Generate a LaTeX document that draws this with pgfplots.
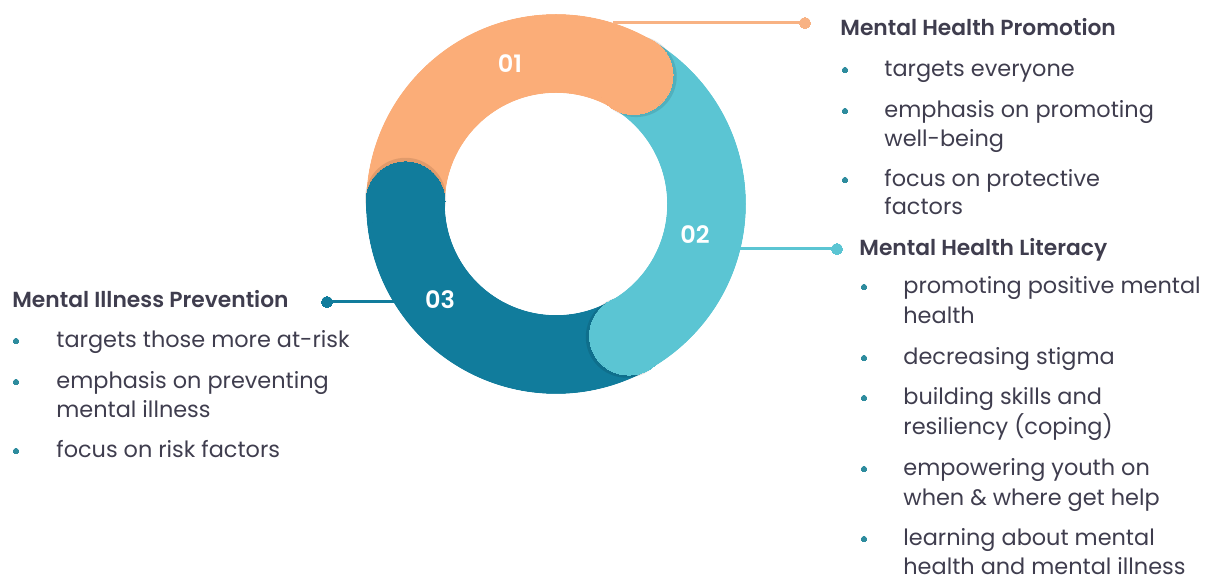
\documentclass[border=0pt]{standalone}
\usepackage{pgfplots}
\pgfplotsset{compat=1.18}
\usepackage{fontspec}
\setmainfont{Poppins}[BoldFont={Poppins SemiBold}]
\definecolor{orangeC}{HTML}{FBAD78}
\definecolor{lteal}{HTML}{5BC5D3}
\definecolor{dteal}{HTML}{117C9C}
\definecolor{lineO}{HTML}{F8B283}
\definecolor{textC}{HTML}{3F3D4E}
\definecolor{bulC}{HTML}{2E8C9E}
\newcommand{\body}{\fontsize{11.2}{11.2}\selectfont}
\newcommand{\head}{\fontsize{10.9}{10.9}\selectfont\bfseries}
\pgfplotsset{dot/.style={only marks, mark=*, color=#1, mark options={solid, fill=#1, draw=#1, line width=0pt}}}
\begin{document}
\begin{tikzpicture}
\begin{axis}[x=0.5pt, y=0.5pt, y dir=reverse,
  xmin=0, xmax=1211, ymin=0, ymax=581, hide axis, clip=false]
% ring segments (equal thirds), angles in degrees
\draw[orangeC, line width=39.5pt] (axis cs:556,204) ++(181:75.25pt) arc[start angle=181, end angle=59, radius=75.25pt];
\draw[lteal, line width=39.5pt] (axis cs:556,204) ++(61:75.25pt) arc[start angle=61, end angle=-61, radius=75.25pt];
\draw[dteal, line width=39.5pt] (axis cs:556,204) ++(-59:75.25pt) arc[start angle=-59, end angle=-181, radius=75.25pt];
% cap shadows (shifted toward the leading edge)
\addplot[only marks, mark=*, mark size=20.3pt, mark options={draw=none, fill=black, fill opacity=0.10, draw opacity=0}] coordinates {(636.1,76.5) (626.4,337.1) (405.6,198.4)};
% caps
\addplot[dot=orangeC, mark size=19.75pt] coordinates {(633.5,75.0)};
\addplot[dot=lteal, mark size=19.75pt] coordinates {(629.0,335.6)};
\addplot[dot=dteal, mark size=19.75pt] coordinates {(405.5,201.4)};
% clean ring edges
\fill[white] (axis cs:556,204) circle[radius=55.5pt];
\draw[white, line width=10pt] (axis cs:556,204) circle[radius=100pt];
% connectors
\addplot[lineO, line width=1.5pt, mark=none] coordinates {(613,23) (805,23)};
\addplot[dot=lineO, mark size=2.8pt] coordinates {(805,23)};
\addplot[lteal, line width=1.5pt, mark=none] coordinates {(740,249) (837,249)};
\addplot[dot=lteal, mark size=2.8pt] coordinates {(837,249)};
\addplot[dteal, line width=1.5pt, mark=none] coordinates {(327,302) (394,302)};
\addplot[dot=dteal, mark size=2.8pt] coordinates {(327,302)};
% numbers
\node[text=white, font=\fontsize{12}{12}\selectfont\bfseries] at (axis cs:510,64) {01};
\node[text=white, font=\fontsize{12}{12}\selectfont\bfseries] at (axis cs:695,235) {02};
\node[text=white, font=\fontsize{12}{12}\selectfont\bfseries] at (axis cs:440,300) {03};
% bullets
\addplot[dot=bulC, mark size=1.4pt] coordinates {
 (845,70) (845,111) (845,180)
 (864,287) (864,358) (864,398) (864,469) (864,539)
 (16,341) (16,382) (16,451)};
% block 1
\node[anchor=base west, text=textC, font=\head, inner sep=0] at (axis cs:840,36) {Mental Health Promotion};
\node[anchor=base west, text=textC, font=\body, inner sep=0] at (axis cs:884,77) {targets everyone};
\node[anchor=base west, text=textC, font=\body, inner sep=0] at (axis cs:884,118) {emphasis on promoting};
\node[anchor=base west, text=textC, font=\body, inner sep=0] at (axis cs:884,147) {well-being};
\node[anchor=base west, text=textC, font=\body, inner sep=0] at (axis cs:884,187) {focus on protective};
\node[anchor=base west, text=textC, font=\body, inner sep=0] at (axis cs:884,215) {factors};
% block 2
\node[anchor=base west, text=textC, font=\head, inner sep=0] at (axis cs:859,256) {Mental Health Literacy};
\node[anchor=base west, text=textC, font=\body, inner sep=0] at (axis cs:903,294) {promoting positive mental};
\node[anchor=base west, text=textC, font=\body, inner sep=0] at (axis cs:903,324) {health};
\node[anchor=base west, text=textC, font=\body, inner sep=0] at (axis cs:903,365) {decreasing stigma};
\node[anchor=base west, text=textC, font=\body, inner sep=0] at (axis cs:903,405) {building skills and};
\node[anchor=base west, text=textC, font=\body, inner sep=0] at (axis cs:903,435) {resiliency (coping)};
\node[anchor=base west, text=textC, font=\body, inner sep=0] at (axis cs:903,476) {empowering youth on};
\node[anchor=base west, text=textC, font=\body, inner sep=0] at (axis cs:903,506) {when \& where get help};
\node[anchor=base west, text=textC, font=\body, inner sep=0] at (axis cs:903,546) {learning about mental};
\node[anchor=base west, text=textC, font=\body, inner sep=0] at (axis cs:903,575) {health and mental illness};
% block 3
\node[anchor=base west, text=textC, font=\head, inner sep=0] at (axis cs:12,308) {Mental Illness Prevention};
\node[anchor=base west, text=textC, font=\body, inner sep=0] at (axis cs:56,348) {targets those more at-risk};
\node[anchor=base west, text=textC, font=\body, inner sep=0] at (axis cs:56,389) {emphasis on preventing};
\node[anchor=base west, text=textC, font=\body, inner sep=0] at (axis cs:56,418) {mental illness};
\node[anchor=base west, text=textC, font=\body, inner sep=0] at (axis cs:56,458) {focus on risk factors};
\end{axis}
\pgfresetboundingbox
\useasboundingbox (0,0) rectangle (605.5pt,290.5pt);
\end{tikzpicture}
\end{document}
